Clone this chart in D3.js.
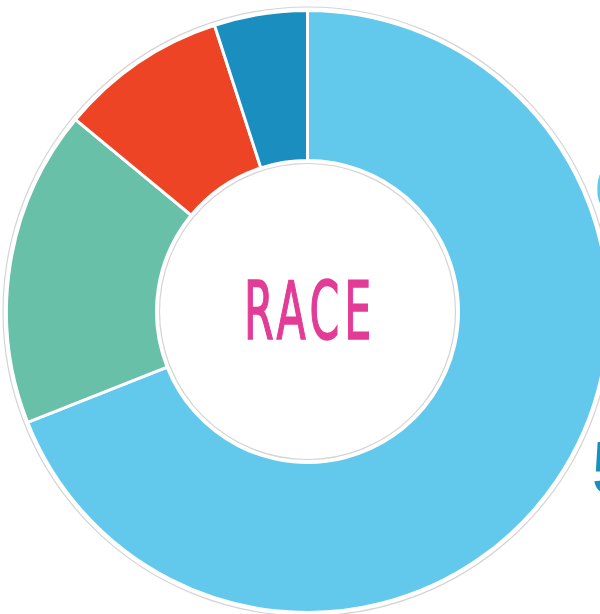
<!DOCTYPE html>
<html>
<head>
<meta charset="utf-8">
<script src="https://cdn.jsdelivr.net/npm/d3@7"></script>
<style>
  body { margin: 0; background: #fff; overflow: hidden; }
  svg { display: block; }
</style>
</head>
<body>
<svg id="chart" width="600" height="614"></svg>
<script>
// slices, clockwise from the top
var categories = ["White", "Hispanic", "Black", "Asian"];
var values = [69, 17, 9, 5];
var colors = ["#62c9ec", "#68c0a8", "#ee4426", "#1a8fbf"];
var labels = ["69%", "5%"];

var svg = d3.select("#chart");
var cx = 307.5, cy = 311.5;
var outerR = 301, innerR = 151;

var g = svg.append("g").attr("transform", "translate(" + cx + "," + cy + ")");

var pie = d3.pie().sort(null).value(function(d) { return d; });
var arc = d3.arc().innerRadius(innerR).outerRadius(outerR);

// faint grey rings outside and inside the donut
g.append("circle").attr("r", outerR + 3.5)
  .attr("fill", "none").attr("stroke", "#d4d4d4").attr("stroke-width", 1.2);
g.append("circle").attr("r", innerR - 3)
  .attr("fill", "none").attr("stroke", "#d4d4d4").attr("stroke-width", 1.2);

g.selectAll("path.slice")
  .data(pie(values))
  .enter().append("path")
  .attr("class", "slice")
  .attr("d", arc)
  .attr("fill", function(d, i) { return colors[i]; })
  .attr("stroke", "#fff")
  .attr("stroke-width", 3);

// centre title
var spacing = 8;
var title = g.append("text")
  .attr("x", spacing / 2)
  .attr("text-anchor", "middle")
  .attr("y", 27)
  .attr("font-family", "'Liberation Sans Narrow', 'DejaVu Sans Condensed', sans-serif")
  .attr("font-size", 80)
  .attr("letter-spacing", spacing)
  .attr("fill", "#e23c96")
  .attr("stroke", "#e23c96")
  .attr("stroke-width", 1.6)
  .text("RACE");
var w = title.node().getComputedTextLength();
title.attr("transform", "scale(" + ((124 + spacing) / w) + ",1)");

// labels cut off at the right edge
svg.append("text")
  .attr("x", 595).attr("y", 211)
  .attr("font-family", "'Liberation Sans Narrow', sans-serif")
  .attr("font-size", 64)
  .attr("font-weight", "bold")
  .attr("fill", colors[0])
  .text(labels[0]);
svg.append("text")
  .attr("x", 592).attr("y", 494)
  .attr("font-family", "'Liberation Sans Narrow', sans-serif")
  .attr("font-size", 76)
  .attr("font-weight", "bold")
  .attr("fill", colors[3])
  .text(labels[1]);
</script>
</body>
</html>
